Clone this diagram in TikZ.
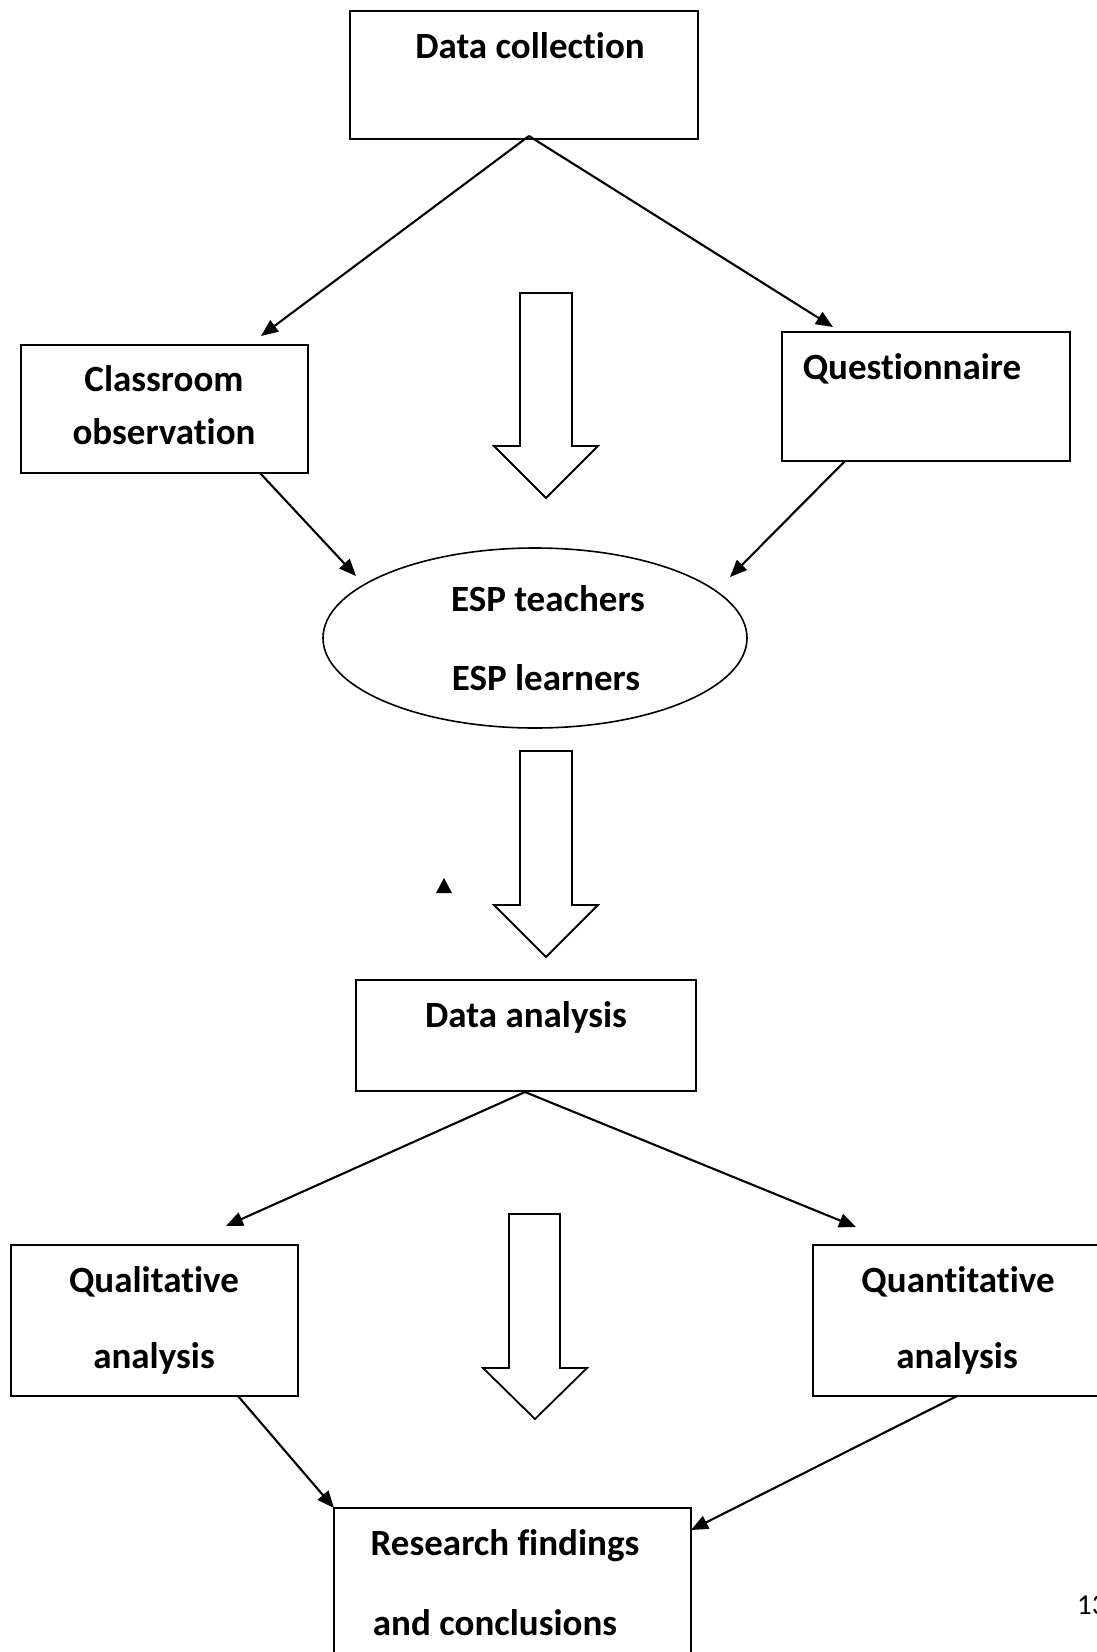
\documentclass[tikz,border=0pt]{standalone}
\usepackage{fontspec}
\setmainfont{Carlito}[Ligatures=NoCommon]
\usetikzlibrary{arrows.meta,shapes.geometric}
\begin{document}
\begin{tikzpicture}[x=1pt,y=-1pt,
  box/.style={draw,line width=1.9pt,inner sep=0pt},
  lbl/.style={anchor=base,inner sep=0pt,font=\fontsize{37}{40}\selectfont\bfseries},
  link/.style={line width=2.1pt,-{Triangle[length=17pt,width=14pt]}},
  bigarrow/.style={draw,line width=1.8pt,line join=miter,fill=white}]
\useasboundingbox (0,0) rectangle (1096,1652);
\fill[white] (0,0) rectangle (1096,1652);

% boxes (corner to corner)
\draw[box] (350,11) rectangle (698,139);
\draw[box] (21,345) rectangle (308,473);
\draw[box] (782,332) rectangle (1070,461);
\draw[box] (356,980) rectangle (696,1091);
\draw[box] (11,1245) rectangle (298,1396);
\draw[box] (813,1245) rectangle (1110,1396);
\draw[box] (334,1508) rectangle (691,1680);
\node[draw,line width=1.6pt,ellipse,minimum width=424pt,minimum height=180pt,inner sep=0pt] (esp) at (535,638) {};

% labels
\node[lbl] (dc) at (530,58) {Data collection};
\node[lbl] (co1) at (164,391) {Classroom};
\node[lbl] (co2) at (164,444) {observation};
\node[lbl] (qu) at (912,379) {Questionnaire};
\node[lbl] (esp1) at (548,611) {ESP teachers};
\node[lbl] (esp2) at (546,690) {ESP learners};
\node[lbl] (da) at (526,1027) {Data analysis};
\node[lbl] (ql1) at (154,1292) {Qualitative};
\node[lbl] (ql2) at (154,1368) {analysis};
\node[lbl] (qn1) at (958,1292) {Quantitative};
\node[lbl] (qn2) at (957,1368) {analysis};
\node[lbl] (rf1) at (505,1555) {Research findings};
\node[lbl] (rf2) at (495,1635) {and conclusions};
\node[anchor=base west,inner sep=0pt,font=\fontsize{29}{32}\selectfont] (pg) at (1077,1614) {13};

% connector end points
\coordinate (dcB) at (529,136);
\coordinate (coT) at (261,336);
\coordinate (quT) at (833,327);
\coordinate (coB) at (260,473);
\coordinate (quB) at (845,461);
\coordinate (espL) at (356,576);
\coordinate (espR) at (730,577);
\coordinate (daB) at (525,1092);
\coordinate (qlT) at (226,1226);
\coordinate (qnT) at (856,1227);
\coordinate (qlB) at (238,1396);
\coordinate (qnB) at (957,1396);
\coordinate (rfL) at (334,1508);
\coordinate (rfR) at (691,1530);

\draw[link] (dcB) -- (coT);
\draw[link] (dcB) -- (quT);
\draw[link] (coB) -- (espL);
\draw[link] (quB) -- (espR);
\draw[link] (daB) -- (qlT);
\draw[link] (daB) -- (qnT);
\draw[link] (qlB) -- (rfL);
\draw[link] (qnB) -- (rfR);

% block arrows
\draw[bigarrow] (520,293) -- (572,293) -- (572,446) -- (598,446) -- (546,498) -- (494,446) -- (520,446) -- cycle;
\draw[bigarrow] (520,751) -- (572,751) -- (572,905) -- (598,905) -- (546,957) -- (494,905) -- (520,905) -- cycle;
\draw[bigarrow] (509,1214) -- (560,1214) -- (560,1368) -- (587,1368) -- (535,1419) -- (483,1368) -- (509,1368) -- cycle;

% small marker
\fill (436,893) -- (452,893) -- (444,878) -- cycle;
\end{tikzpicture}
\end{document}
